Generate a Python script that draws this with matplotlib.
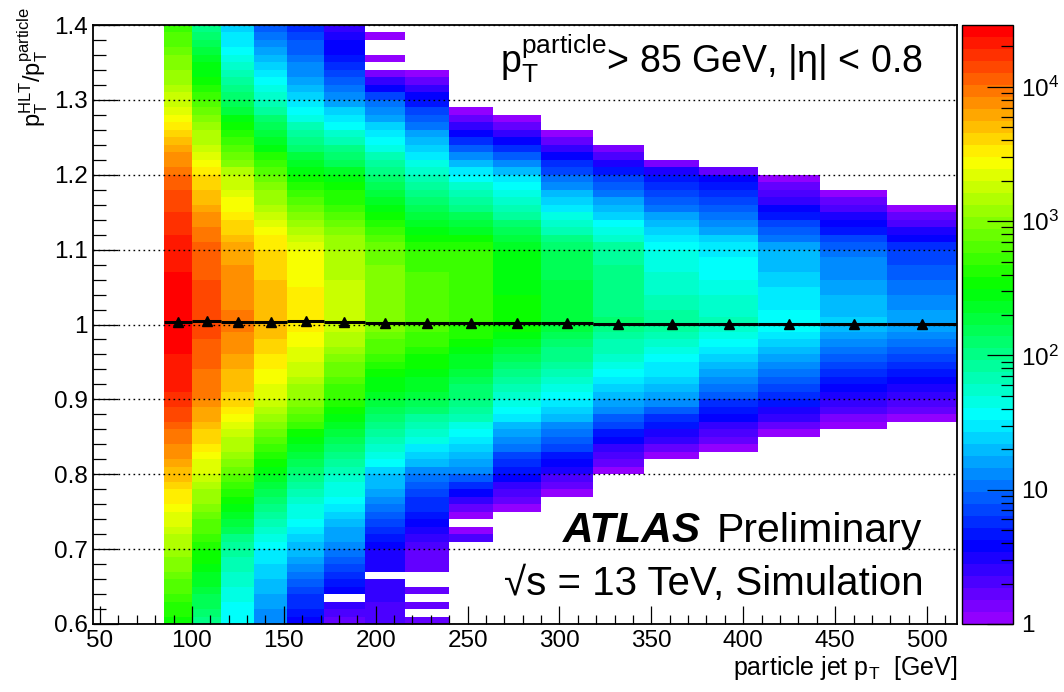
import colorsys
import numpy as np
import matplotlib
matplotlib.use("Agg")
import matplotlib.pyplot as plt
from matplotlib.colors import ListedColormap, LogNorm
from matplotlib.ticker import MultipleLocator, FixedLocator, FixedFormatter, NullFormatter

# --- STYLE SETTINGS ---
plt.rcParams.update({
    'font.family': 'Liberation Sans',
    'mathtext.fontset': 'custom',
    'mathtext.rm': 'Liberation Sans',
    'mathtext.it': 'Liberation Sans:italic',
    'mathtext.bf': 'Liberation Sans:bold',
    'font.size': 17.5,
})

# --- DATA ---
# particle jet pT bin edges [GeV]
PT_EDGES = [85, 100, 116, 134, 152, 172, 194, 216, 240, 264, 290, 318,
            346, 376, 408, 442, 478, 516.3]
# response bins are 0.01 wide between 0.6 and 1.4
RESP_LO, RESP_HI, RESP_STEP = 0.6, 1.4, 0.01

# log10(entries) per pT column, read at these response values (None = no entries)
KNOT_Y = [0.6, 0.7, 0.8, 0.9, 1.0, 1.1, 1.2, 1.3, 1.4]
LOG_COUNTS = [
    [2.50, 3.10, 3.70, 4.26, 4.45, 4.34, 4.04, 3.26, 2.70],
    [2.00, 2.60, 3.29, 3.93, 4.15, 4.07, 3.56, 2.77, 1.97],
    [1.50, 1.91, 2.85, 3.63, 3.96, 3.81, 3.18, 2.16, 1.30],
    [1.05, 1.50, 2.40, 3.29, 3.73, 3.60, 2.85, 1.80, 0.89],
    [0.52, 1.30, 2.00, 3.04, 3.55, 3.40, 2.54, 1.38, 0.75],
    [0.16, 1.05, 1.80, 2.65, 3.29, 3.15, 2.40, 1.16, 0.33],
    [0.30, 0.52, 1.38, 2.32, 3.02, 2.92, 2.07, 0.97, None],
    [0.20, 0.27, 1.08, 2.25, 2.85, 2.72, 1.80, 0.64, None],
    [None, None, 1.05, 2.03, 2.69, 2.68, 1.53, None, None],
    [None, None, 0.60, 1.72, 2.54, 2.43, 1.38, None, None],
    [None, None, 0.42, 1.53, 2.32, 2.16, 0.97, None, None],
    [None, None, None, 1.27, 2.07, 1.94, 0.78, None, None],
    [None, None, None, 1.16, 1.94, 1.59, 0.64, None, None],
    [None, None, None, 0.86, 1.80, 1.50, 0.49, None, None],
    [None, None, None, 0.72, 1.59, 1.24, None, None, None],
    [None, None, None, 0.45, 1.38, 1.02, None, None, None],
    [None, None, None, 0.38, 1.27, 0.78, None, None, None],
]
# filled response range per column
Y_LOW = [0.6, 0.6, 0.6, 0.6, 0.6, 0.6, 0.6, 0.6,
         0.74, 0.75, 0.77, 0.80, 0.82, 0.83, 0.85, 0.86, 0.87]
Y_HIGH = [1.4, 1.4, 1.4, 1.4, 1.4, 1.4, 1.34, 1.34,
          1.29, 1.28, 1.26, 1.24, 1.22, 1.21, 1.20, 1.18, 1.16]
# empty bins inside the filled range (lower bin edge) and lone filled bins
EMPTY_BINS = {5: [0.63], 6: [0.66], 7: [0.61, 0.63, 0.65, 0.66]}
LONE_BINS = {6: [(1.35, 1), (1.38, 1)], 8: [(0.71, 2), (0.72, 1)]}
Z_MAX = 10 ** 4.46

# profile (mean response) per column
PROFILE_MEAN = [1.003, 1.0044, 1.004, 1.0035, 1.0044, 1.0028, 1.0017, 1.0015,
                1.002, 1.002, 1.0018, 1.0012, 1.001, 1.001, 1.001, 1.0005, 1.0005]

# --- BUILD HISTOGRAM ---
resp_edges = np.round(np.arange(RESP_LO, RESP_HI + RESP_STEP / 2, RESP_STEP), 2)
resp_mid = 0.5 * (resp_edges[:-1] + resp_edges[1:])
pt_edges = np.array(PT_EDGES)
pt_mid = 0.5 * (pt_edges[:-1] + pt_edges[1:])
pt_half = 0.5 * np.diff(pt_edges)

counts = np.full((len(LOG_COUNTS), len(resp_mid)), np.nan)
for i, logs in enumerate(LOG_COUNTS):
    ky = [y for y, v in zip(KNOT_Y, logs) if v is not None]
    kv = [v for v in logs if v is not None]
    if Y_LOW[i] > RESP_LO:
        ky, kv = [Y_LOW[i]] + ky, [0.0] + kv
    if Y_HIGH[i] < RESP_HI:
        ky, kv = ky + [Y_HIGH[i]], kv + [0.0]
    inside = (resp_mid > Y_LOW[i]) & (resp_mid < Y_HIGH[i])
    counts[i, inside] = 10 ** np.interp(resp_mid[inside], ky, kv)
for i, ys in EMPTY_BINS.items():
    for y in ys:
        counts[i, int(round((y - RESP_LO) / RESP_STEP))] = np.nan
for i, cells in LONE_BINS.items():
    for y, n in cells:
        counts[i, int(round((y - RESP_LO) / RESP_STEP))] = n

# ROOT "pretty" palette: violet -> red, 50 steps in hue
palette = [colorsys.hls_to_rgb(h / 360.0, 0.5, 1.0) for h in np.linspace(274.4, 0, 50)]
cmap = ListedColormap(palette)
norm = LogNorm(vmin=1, vmax=Z_MAX)

fig = plt.figure(figsize=(10.64, 6.92), dpi=100)
ax = fig.add_axes([93 / 1064, 68 / 692, 864 / 1064, 599 / 692])

mesh = ax.pcolormesh(pt_edges, resp_edges, np.ma.masked_invalid(counts.T),
                     cmap=cmap, norm=norm, shading='flat', antialiased=False,
                     linewidth=0, zorder=1)

ax.errorbar(pt_mid, PROFILE_MEAN, xerr=pt_half, fmt='^', color='black',
            ms=7.5, elinewidth=2.2, capsize=0, zorder=4)

ax.set_xlim(46.2, 516.3)
ax.set_ylim(0.6, 1.4)

ax.xaxis.set_major_locator(MultipleLocator(50))
ax.xaxis.set_minor_locator(MultipleLocator(10))
yt = [0.6, 0.7, 0.8, 0.9, 1.0, 1.1, 1.2, 1.3, 1.4]
ax.yaxis.set_major_locator(FixedLocator(yt))
ax.yaxis.set_major_formatter(FixedFormatter(['0.6', '0.7', '0.8', '0.9', '1',
                                             '1.1', '1.2', '1.3', '1.4']))
ax.yaxis.set_minor_locator(MultipleLocator(0.02))
ax.tick_params(axis='both', which='both', direction='in', top=False, right=False,
               width=0.9, labelsize=17.5)
ax.tick_params(axis='y', which='major', length=18, pad=4)
ax.tick_params(axis='y', which='minor', length=9)
ax.tick_params(axis='x', which='major', length=12.7, pad=4)
ax.tick_params(axis='x', which='minor', length=6.5)
for sp in ax.spines.values():
    sp.set_linewidth(1.3)

ax.set_axisbelow(False)
ax.grid(axis='y', which='major', color='black', lw=1, ls=(0, (1.2, 2.4)))

ax.set_xlabel('particle jet p$_{\\mathrm{T}}$  [GeV]', loc='right', fontsize=18, labelpad=2)
ax.set_ylabel('$\\mathrm{p_{T}^{HLT}/p_{T}^{particle}}$', loc='top', fontsize=17)
ax.yaxis.set_label_coords(-0.05, 1.03)

# text
ax.text(0.961, 0.921, '$\\mathrm{p_{T}^{particle}}$> 85 GeV, |η| < 0.8',
        transform=ax.transAxes, ha='right', va='baseline', fontsize=27)
ax.text(0.5436, 0.137, 'ATLAS', transform=ax.transAxes, ha='left', va='baseline',
        fontsize=30.5, fontweight='bold', fontstyle='italic')
ax.text(0.9595, 0.137, 'Preliminary', transform=ax.transAxes, ha='right',
        va='baseline', fontsize=29.5)
ax.text(0.961, 0.048, '√s = 13 TeV, Simulation',
        transform=ax.transAxes, ha='right', va='baseline', fontsize=29)

# colour bar
cax = fig.add_axes([962 / 1064, 68 / 692, 51 / 1064, 599 / 692])
cb = fig.colorbar(mesh, cax=cax)
cb.outline.set_linewidth(1.0)
cax.yaxis.set_major_locator(FixedLocator([1, 10, 100, 1000, 10000]))
cax.yaxis.set_major_formatter(FixedFormatter(['1', '10', '$10^{2}$', '$10^{3}$', '$10^{4}$']))
minors = [m * 10 ** d for d in range(5) for m in range(2, 10) if m * 10 ** d < Z_MAX]
cax.yaxis.set_minor_locator(FixedLocator(minors))
cax.yaxis.set_minor_formatter(NullFormatter())
cax.tick_params(which='both', direction='in', right=True, left=False, labelsize=17.5, width=0.9)
cax.tick_params(which='major', length=18.5, pad=6)
cax.tick_params(which='minor', length=9)

fig.savefig('out.png', dpi=100, facecolor='white')
